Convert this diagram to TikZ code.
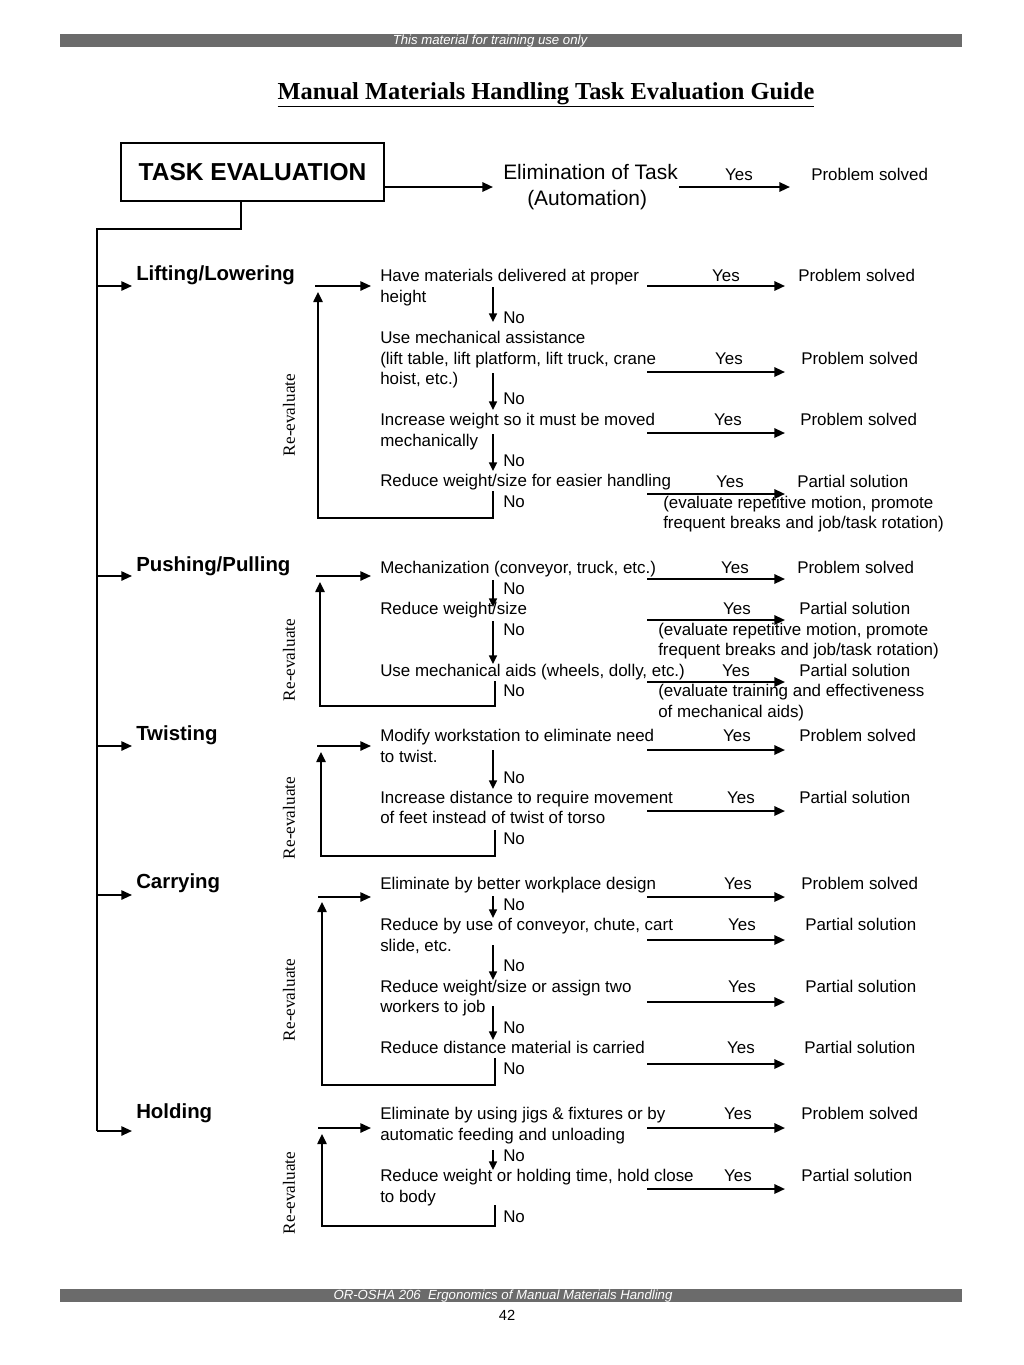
\documentclass[tikz,border=0pt]{standalone}
\usepackage{fontspec}
\setmainfont{Liberation Sans}
\newfontfamily\seriffont{Liberation Serif}
\usetikzlibrary{arrows.meta, positioning}

\definecolor{bargray}{HTML}{6B6B6B}

\tikzset{
  body/.style={anchor=base west, inner sep=0pt, font=\fontsize{12.7}{15}\selectfont},
  big/.style={anchor=base west, inner sep=0pt, font=\fontsize{15.7}{18}\selectfont},
  yeslbl/.style={anchor=base, inner sep=0pt, font=\fontsize{12.7}{15}\selectfont},
  topic/.style={anchor=base west, inner sep=0pt, font=\fontsize{15.3}{18}\selectfont\bfseries},
  reeval/.style={rotate=90, inner sep=0pt, font=\seriffont\fontsize{12.9}{15}\selectfont},
  bartext/.style={inner sep=0pt, text=white, font=\fontsize{9.9}{12}\selectfont\itshape},
  taskbox/.style={draw, line width=1.3pt, minimum width=197.25pt, minimum height=43.5pt,
                  inner sep=0pt, font=\fontsize{18.4}{21}\selectfont\bfseries},
  yesarr/.style={-{Triangle[length=8pt, width=7pt]}, line width=1.6pt},
  entryarr/.style={-{Triangle[length=8pt, width=7pt]}, line width=1.3pt},
  noarr/.style={-{Triangle[length=6.5pt, width=6pt]}, line width=1.1pt},
  backarr/.style={-{Triangle[length=7.5pt, width=7pt]}, line width=1.1pt},
  trunk/.style={line width=1.3pt},
}

\begin{document}
\begin{tikzpicture}[x=0.75pt, y=-0.75pt]
  \useasboundingbox (0,0) rectangle (1024,1365);

  % page bars
  \fill[bargray] (60,34) rectangle (962,47);
  \node[bartext] (header) at (490,41) {This material for training use only};
  \fill[bargray] (60,1289) rectangle (962,1302);
  \node[bartext] (footer) at (503,1296) {OR-OSHA 206\ \ Ergonomics of Manual Materials Handling};
  \node[inner sep=0pt, font=\fontsize{11}{13}\selectfont] (pageno) at (507,1315) {42};

  \node[inner sep=0pt, font=\seriffont\bfseries\fontsize{18.3}{22}\selectfont] (title) at (546,95)
       {\underline{Manual Materials Handling Task Evaluation Guide}};

  % top row
  \node[taskbox] (task) at (252.5,172) {TASK EVALUATION};
  \node[big] (elim) at (503,179) {Elimination of Task};
  \node[big] (auto) at (527,205) {(Automation)};
  \coordinate (elimIn) at (493,187);
  \draw[yesarr] (task.east |- elimIn) -- (elimIn);
  \coordinate (elimY0) at (679,187);
  \coordinate (elimY1) at (790,187);
  \draw[yesarr] (elimY0) -- (elimY1);
  \node[yeslbl] (elimYes) at (739,180) {Yes};
  \node[body] (elimRes) at (811,180) {Problem solved};

  % spine
  \coordinate (spineTop) at (241,229);
  \coordinate (spineL) at (97,229);
  \coordinate (spineEnd) at (97,1131);
  \draw[trunk] (task.south -| spineTop) -- (spineTop) -- (spineL) -- (spineEnd);

  % lifting / lowering
  \node[topic] (lift) at (136,280) {Lifting/Lowering};
  \coordinate (liftIn) at (132,286);
  \draw[entryarr] (spineL |- liftIn) -- (liftIn);
  \coordinate (liftE0) at (315,286);
  \coordinate (liftE1) at (371,286);
  \draw[entryarr] (liftE0) -- (liftE1);
  \node[body] (lift1a) at (380,281) {Have materials delivered at proper};
  \node[body] (lift1b) at (380,302) {height};
  \node[body] (lift2a) at (380,343) {Use mechanical assistance};
  \node[body] (lift2b) at (380,364) {(lift table, lift platform, lift truck, crane};
  \node[body] (lift2c) at (380,384) {hoist, etc.)};
  \node[body] (lift3a) at (380,425) {Increase weight so it must be moved};
  \node[body] (lift3b) at (380,446) {mechanically};
  \node[body] (lift4a) at (380,486) {Reduce weight/size for easier handling};
  \node[body] (lift1no) at (503,323) {No};
  \node[body] (lift2no) at (503,404) {No};
  \node[body] (lift3no) at (503,466) {No};
  \node[body] (lift4no) at (503,507) {No};
  \coordinate (lift1n0) at (493,287);
  \coordinate (lift1n1) at (493,322);
  \coordinate (lift2n0) at (493,373);
  \coordinate (lift2n1) at (493,410);
  \coordinate (lift3n0) at (493,434);
  \coordinate (lift3n1) at (493,471);
  \draw[noarr] (lift1n0) -- (lift1n1);
  \draw[noarr] (lift2n0) -- (lift2n1);
  \draw[noarr] (lift3n0) -- (lift3n1);
  \coordinate (liftB0) at (493,491);
  \coordinate (liftB1) at (493,518);
  \coordinate (liftB2) at (318,518);
  \coordinate (liftB3) at (318,292);
  \draw[backarr] (liftB0) -- (liftB1) -- (liftB2) -- (liftB3);
  \node[reeval] (liftRe) at (289,415) {Re-evaluate};
  \coordinate (lift1y0) at (647,286);
  \coordinate (lift1y1) at (785,286);
  \coordinate (lift2y0) at (647,372);
  \coordinate (lift2y1) at (785,372);
  \coordinate (lift3y0) at (647,433);
  \coordinate (lift3y1) at (785,433);
  \coordinate (lift4y0) at (647,494);
  \coordinate (lift4y1) at (785,494);
  \draw[yesarr] (lift1y0) -- (lift1y1);
  \draw[yesarr] (lift2y0) -- (lift2y1);
  \draw[yesarr] (lift3y0) -- (lift3y1);
  \draw[yesarr] (lift4y0) -- (lift4y1);
  \node[yeslbl] (lift1yes) at (726,281) {Yes};
  \node[yeslbl] (lift2yes) at (729,364) {Yes};
  \node[yeslbl] (lift3yes) at (728,425) {Yes};
  \node[yeslbl] (lift4yes) at (730,487) {Yes};
  \node[body] (lift1res) at (798,281) {Problem solved};
  \node[body] (lift2res) at (801,364) {Problem solved};
  \node[body] (lift3res) at (800,425) {Problem solved};
  \node[body] (lift4res) at (797,487) {Partial solution};
  \node[body] (lift4noteA) at (663,508) {(evaluate repetitive motion, promote};
  \node[body] (lift4noteB) at (663,528) {frequent breaks and job/task rotation)};

  % pushing / pulling
  \node[topic] (push) at (136,571) {Pushing/Pulling};
  \coordinate (pushIn) at (132,576);
  \draw[entryarr] (spineL |- pushIn) -- (pushIn);
  \coordinate (pushE0) at (316,576);
  \coordinate (pushE1) at (371,576);
  \draw[entryarr] (pushE0) -- (pushE1);
  \node[body] (push1a) at (380,573) {Mechanization (conveyor, truck, etc.)};
  \node[body] (push2a) at (380,614) {Reduce weight/size};
  \node[body] (push3a) at (380,676) {Use mechanical aids (wheels, dolly, etc.)};
  \node[body] (push1no) at (503,594) {No};
  \node[body] (push2no) at (503,635) {No};
  \node[body] (push3no) at (503,696) {No};
  \coordinate (push1n0) at (493,580);
  \coordinate (push1n1) at (493,607);
  \coordinate (push2n0) at (493,621);
  \coordinate (push2n1) at (493,664);
  \draw[noarr] (push1n0) -- (push1n1);
  \draw[noarr] (push2n0) -- (push2n1);
  \coordinate (pushB0) at (495,681);
  \coordinate (pushB1) at (495,706);
  \coordinate (pushB2) at (320,706);
  \coordinate (pushB3) at (320,582);
  \draw[backarr] (pushB0) -- (pushB1) -- (pushB2) -- (pushB3);
  \node[reeval] (pushRe) at (289,660) {Re-evaluate};
  \coordinate (push1y0) at (647,579);
  \coordinate (push1y1) at (785,579);
  \coordinate (push2y0) at (647,620);
  \coordinate (push2y1) at (785,620);
  \coordinate (push3y0) at (647,682);
  \coordinate (push3y1) at (785,682);
  \draw[yesarr] (push1y0) -- (push1y1);
  \draw[yesarr] (push2y0) -- (push2y1);
  \draw[yesarr] (push3y0) -- (push3y1);
  \node[yeslbl] (push1yes) at (735,573) {Yes};
  \node[yeslbl] (push2yes) at (737,614) {Yes};
  \node[yeslbl] (push3yes) at (736,676) {Yes};
  \node[body] (push1res) at (797,573) {Problem solved};
  \node[body] (push2res) at (799,614) {Partial solution};
  \node[body] (push2noteA) at (658,635) {(evaluate repetitive motion, promote};
  \node[body] (push2noteB) at (658,655) {frequent breaks and job/task rotation)};
  \node[body] (push3res) at (799,676) {Partial solution};
  \node[body] (push3noteA) at (658,696) {(evaluate training and effectiveness};
  \node[body] (push3noteB) at (658,717) {of mechanical aids)};

  % twisting
  \node[topic] (twist) at (136,740) {Twisting};
  \coordinate (twistIn) at (132,746);
  \draw[entryarr] (spineL |- twistIn) -- (twistIn);
  \coordinate (twistE0) at (317,746);
  \coordinate (twistE1) at (371,746);
  \draw[entryarr] (twistE0) -- (twistE1);
  \node[body] (twist1a) at (380,741) {Modify workstation to eliminate need};
  \node[body] (twist1b) at (380,762) {to twist.};
  \node[body] (twist2a) at (380,803) {Increase distance to require movement};
  \node[body] (twist2b) at (380,823) {of feet instead of twist of torso};
  \node[body] (twist1no) at (503,783) {No};
  \node[body] (twist2no) at (503,844) {No};
  \coordinate (twist1n0) at (493,750);
  \coordinate (twist1n1) at (493,789);
  \draw[noarr] (twist1n0) -- (twist1n1);
  \coordinate (twistB0) at (495,830);
  \coordinate (twistB1) at (495,856);
  \coordinate (twistB2) at (321,856);
  \coordinate (twistB3) at (321,752);
  \draw[backarr] (twistB0) -- (twistB1) -- (twistB2) -- (twistB3);
  \node[reeval] (twistRe) at (289,818) {Re-evaluate};
  \coordinate (twist1y0) at (647,750);
  \coordinate (twist1y1) at (785,750);
  \coordinate (twist2y0) at (647,811);
  \coordinate (twist2y1) at (785,811);
  \draw[yesarr] (twist1y0) -- (twist1y1);
  \draw[yesarr] (twist2y0) -- (twist2y1);
  \node[yeslbl] (twist1yes) at (737,741) {Yes};
  \node[yeslbl] (twist2yes) at (741,803) {Yes};
  \node[body] (twist1res) at (799,741) {Problem solved};
  \node[body] (twist2res) at (799,803) {Partial solution};

  % carrying
  \node[topic] (carry) at (136,888) {Carrying};
  \coordinate (carryIn) at (132,895);
  \draw[entryarr] (spineL |- carryIn) -- (carryIn);
  \coordinate (carryE0) at (318,897);
  \coordinate (carryE1) at (371,897);
  \draw[entryarr] (carryE0) -- (carryE1);
  \node[body] (carry1a) at (380,889) {Eliminate by better workplace design};
  \node[body] (carry2a) at (380,930) {Reduce by use of conveyor, chute, cart};
  \node[body] (carry2b) at (380,951) {slide, etc.};
  \node[body] (carry3a) at (380,992) {Reduce weight/size or assign two};
  \node[body] (carry3b) at (380,1012) {workers to job};
  \node[body] (carry4a) at (380,1053) {Reduce distance material is carried};
  \node[body] (carry1no) at (503,910) {No};
  \node[body] (carry2no) at (503,971) {No};
  \node[body] (carry3no) at (503,1033) {No};
  \node[body] (carry4no) at (503,1074) {No};
  \coordinate (carry1n0) at (493,896);
  \coordinate (carry1n1) at (493,918);
  \coordinate (carry2n0) at (493,945);
  \coordinate (carry2n1) at (493,980);
  \coordinate (carry3n0) at (493,1006);
  \coordinate (carry3n1) at (493,1040);
  \draw[noarr] (carry1n0) -- (carry1n1);
  \draw[noarr] (carry2n0) -- (carry2n1);
  \draw[noarr] (carry3n0) -- (carry3n1);
  \coordinate (carryB0) at (495,1058);
  \coordinate (carryB1) at (495,1085);
  \coordinate (carryB2) at (322,1085);
  \coordinate (carryB3) at (322,902);
  \draw[backarr] (carryB0) -- (carryB1) -- (carryB2) -- (carryB3);
  \node[reeval] (carryRe) at (289,1000) {Re-evaluate};
  \coordinate (carry1y0) at (647,897);
  \coordinate (carry1y1) at (785,897);
  \coordinate (carry2y0) at (647,940);
  \coordinate (carry2y1) at (785,940);
  \coordinate (carry3y0) at (647,1002);
  \coordinate (carry3y1) at (785,1002);
  \coordinate (carry4y0) at (647,1064);
  \coordinate (carry4y1) at (785,1064);
  \draw[yesarr] (carry1y0) -- (carry1y1);
  \draw[yesarr] (carry2y0) -- (carry2y1);
  \draw[yesarr] (carry3y0) -- (carry3y1);
  \draw[yesarr] (carry4y0) -- (carry4y1);
  \node[yeslbl] (carry1yes) at (738,889) {Yes};
  \node[yeslbl] (carry2yes) at (742,930) {Yes};
  \node[yeslbl] (carry3yes) at (742,992) {Yes};
  \node[yeslbl] (carry4yes) at (741,1053) {Yes};
  \node[body] (carry1res) at (801,889) {Problem solved};
  \node[body] (carry2res) at (805,930) {Partial solution};
  \node[body] (carry3res) at (805,992) {Partial solution};
  \node[body] (carry4res) at (804,1053) {Partial solution};

  % holding
  \node[topic] (hold) at (136,1118) {Holding};
  \coordinate (holdIn) at (132,1131);
  \draw[entryarr] (spineEnd) -- (holdIn);
  \coordinate (holdE0) at (318,1128);
  \coordinate (holdE1) at (371,1128);
  \draw[entryarr] (holdE0) -- (holdE1);
  \node[body] (hold1a) at (380,1119) {Eliminate by using jigs \& fixtures or by};
  \node[body] (hold1b) at (380,1140) {automatic feeding and unloading};
  \node[body] (hold2a) at (380,1181) {Reduce weight or holding time, hold close};
  \node[body] (hold2b) at (380,1202) {to body};
  \node[body] (hold1no) at (503,1161) {No};
  \node[body] (hold2no) at (503,1222) {No};
  \coordinate (hold1n0) at (493,1150);
  \coordinate (hold1n1) at (493,1170);
  \draw[noarr] (hold1n0) -- (hold1n1);
  \coordinate (holdB0) at (495,1205);
  \coordinate (holdB1) at (495,1226);
  \coordinate (holdB2) at (322,1226);
  \coordinate (holdB3) at (322,1134);
  \draw[backarr] (holdB0) -- (holdB1) -- (holdB2) -- (holdB3);
  \node[reeval] (holdRe) at (289,1193) {Re-evaluate};
  \coordinate (hold1y0) at (647,1128);
  \coordinate (hold1y1) at (785,1128);
  \coordinate (hold2y0) at (647,1189);
  \coordinate (hold2y1) at (785,1189);
  \draw[yesarr] (hold1y0) -- (hold1y1);
  \draw[yesarr] (hold2y0) -- (hold2y1);
  \node[yeslbl] (hold1yes) at (738,1119) {Yes};
  \node[yeslbl] (hold2yes) at (738,1181) {Yes};
  \node[body] (hold1res) at (801,1119) {Problem solved};
  \node[body] (hold2res) at (801,1181) {Partial solution};
\end{tikzpicture}
\end{document}
